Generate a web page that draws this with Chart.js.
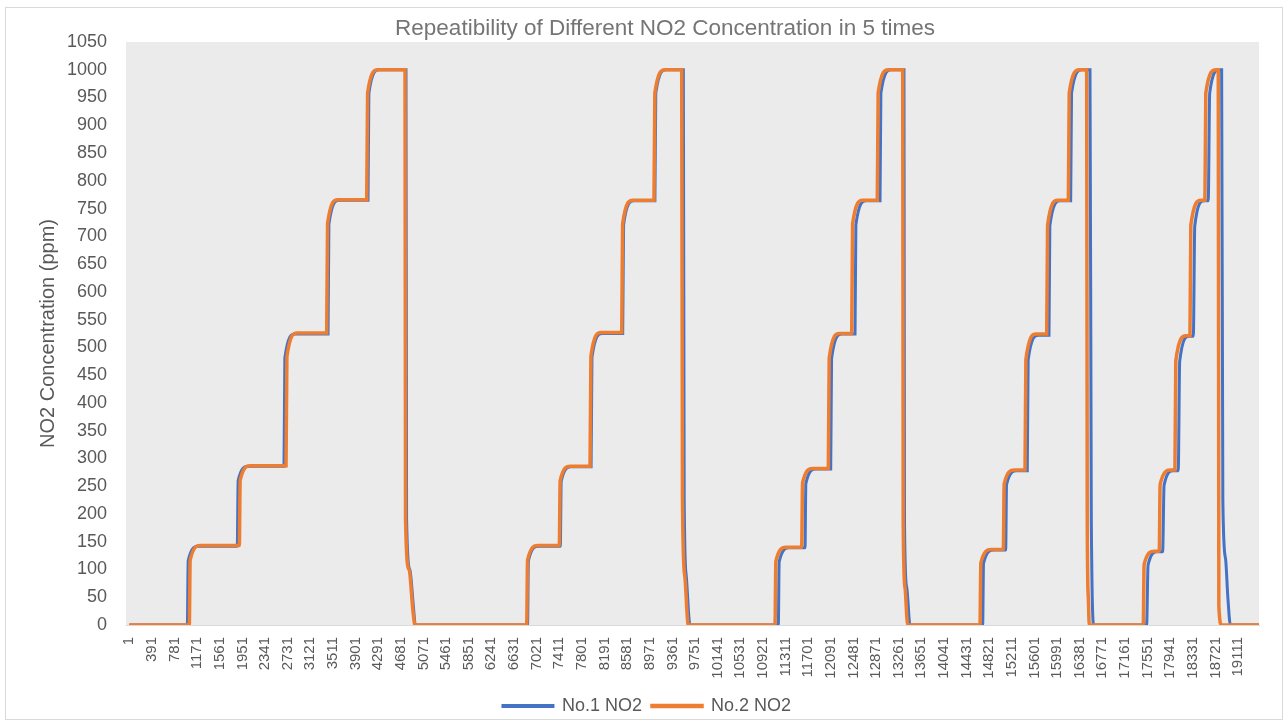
<!DOCTYPE html>
<html>
<head>
<meta charset="utf-8">
<title>Repeatibility of Different NO2 Concentration in 5 times</title>
<script src="https://cdn.jsdelivr.net/npm/chart.js@4.4.0/dist/chart.umd.min.js"></script>
<style>
  html, body { margin: 0; padding: 0; background: #fff; }
  #wrap { width: 1288px; height: 725px; }
</style>
</head>
<body>
<div id="wrap"><canvas id="no2Chart" width="1288" height="725"></canvas></div>
<script>
const chartTitle = 'Repeatibility of Different NO2 Concentration in 5 times';
const yTitle = 'NO2 Concentration (ppm)';
const seriesNames = ['No.1 NO2', 'No.2 NO2'];

// category labels shown on the x axis (every 390th sample)
const xTicks = [1, 391, 781, 1171, 1561, 1951, 2341, 2731, 3121, 3511, 3901, 4291, 4681,
    5071, 5461, 5851, 6241, 6631, 7021, 7411, 7801, 8191, 8581, 8971, 9361, 9751,
    10141, 10531, 10921, 11311, 11701, 12091, 12481, 12871, 13261, 13651, 14041, 14431,
    14821, 15211, 15601, 15991, 16381, 16771, 17161, 17551, 17941, 18331, 18721, 19111];

// No.1 sensor - corners of the step curve (sample index, ppm)
const no1X = [1,
    1001, 1016, 1191, 1862, 1877, 2052, 2667, 2682, 2857, 3426, 3441, 3616, 4115, 4130, 4305,
    4770, 4780, 4835, 4900, 4930,
    6865, 6880, 7055, 7430, 7445, 7620, 7960, 7975, 8150, 8505, 8520, 8695, 9060, 9075, 9250,
    9550, 9565, 9600, 9665,
    11187, 11202, 11377, 11647, 11662, 11837, 12090, 12105, 12280, 12509, 12524, 12699, 12940, 12955, 13130,
    13353, 13362, 13400, 13457,
    14709, 14724, 14899, 15106, 15121, 15296, 15478, 15493, 15668, 15852, 15867, 16042, 16226, 16241, 16416,
    16559, 16582, 16627,
    17535, 17560, 17720, 17811, 17836, 17996, 18080, 18105, 18265, 18340, 18365, 18525, 18597, 18622, 18782,
    18828, 18849, 18895, 18935, 18979,
    19470];
const no1Y = [0,
    0, 116, 142, 142, 260, 286, 286, 481, 524, 524, 722, 765, 765, 958, 1000,
    1000, 191, 100, 30, 0,
    0, 116, 142, 142, 259, 285, 285, 482, 525, 525, 721, 764, 764, 958, 1000,
    1000, 228, 89, 0,
    0, 114, 139, 139, 255, 281, 281, 480, 524, 524, 721, 764, 764, 958, 1000,
    1000, 184, 68, 0,
    0, 111, 135, 135, 253, 278, 278, 477, 522, 522, 719, 764, 764, 958, 1000,
    1000, 184, 0,
    0, 108, 132, 132, 252, 278, 278, 475, 520, 520, 719, 764, 764, 958, 1000,
    1000, 224, 120, 50, 0,
    0];

// No.2 sensor
const no2X = [1,
    1035, 1050, 1225, 1897, 1912, 2087, 2702, 2717, 2892, 3403, 3418, 3593, 4093, 4108, 4283,
    4753, 4762, 4822, 4891, 4925,
    6850, 6865, 7040, 7412, 7427, 7602, 7942, 7957, 8132, 8488, 8503, 8678, 9044, 9059, 9234,
    9522, 9535, 9575, 9635,
    11130, 11145, 11320, 11590, 11605, 11780, 12049, 12064, 12239, 12452, 12467, 12642, 12893, 12908, 13083,
    13331, 13340, 13370, 13417,
    14663, 14678, 14853, 15065, 15080, 15255, 15439, 15454, 15629, 15813, 15828, 16003, 16186, 16201, 16376,
    16502, 16512, 16530, 16547,
    17477, 17492, 17667, 17753, 17768, 17943, 18023, 18038, 18213, 18282, 18297, 18472, 18540, 18555, 18730,
    18770, 18780, 18828,
    19470];
const no2Y = [0,
    0, 117, 143, 143, 261, 287, 287, 483, 526, 526, 723, 766, 766, 958, 1000,
    1000, 191, 100, 24, 0,
    0, 117, 143, 143, 260, 286, 286, 484, 527, 527, 722, 765, 765, 958, 1000,
    1000, 228, 89, 0,
    0, 115, 140, 140, 256, 282, 282, 481, 525, 525, 722, 765, 765, 958, 1000,
    1000, 184, 68, 0,
    0, 112, 136, 136, 254, 279, 279, 478, 524, 524, 720, 765, 765, 958, 1000,
    1000, 184, 50, 0,
    0, 109, 133, 133, 253, 279, 279, 476, 521, 521, 720, 765, 765, 958, 1000,
    1000, 34, 0,
    0];

function toPoints(xs, ys) {
    return xs.map((x, i) => ({ x: x, y: ys[i] }));
}

const FONT = "'Liberation Sans', Arial, sans-serif";
const TEXT_GREY = '#595959';

// white page, thin frame, grey plot area and the title
const backdrop = {
    id: 'backdrop',
    beforeDraw(chart) {
        const c = chart.ctx;
        const a = chart.chartArea;
        c.save();
        c.fillStyle = '#ffffff';
        c.fillRect(0, 0, chart.width, chart.height);
        c.strokeStyle = '#d9d9d9';
        c.lineWidth = 1;
        c.strokeRect(5.5, 7.5, 1277, 712);
        c.fillStyle = '#ebebeb';
        c.fillRect(a.left, a.top, a.right - a.left, a.bottom - a.top);
        c.fillStyle = '#757575';
        c.font = '22.5px ' + FONT;
        c.textAlign = 'center';
        c.textBaseline = 'middle';
        c.fillText(chartTitle, 665, 29);
        c.restore();
    }
};

const ctx = document.getElementById('no2Chart').getContext('2d');
const no2Chart = new Chart(ctx, {
    type: 'line',
    data: {
        datasets: [{
            label: seriesNames[0],
            data: toPoints(no1X, no1Y),
            borderColor: '#4472c4',
            backgroundColor: '#4472c4',
            borderWidth: 3,
            pointRadius: 0,
            cubicInterpolationMode: 'monotone',
            order: 2
        }, {
            label: seriesNames[1],
            data: toPoints(no2X, no2Y),
            borderColor: '#ed7d31',
            backgroundColor: '#ed7d31',
            borderWidth: 3.5,
            pointRadius: 0,
            cubicInterpolationMode: 'monotone',
            order: 1
        }]
    },
    options: {
        responsive: false,
        animation: false,
        layout: { padding: { top: 42, left: 35, right: 29, bottom: 0 } },
        plugins: {
            title: { display: false },
            tooltip: { enabled: false },
            legend: {
                position: 'bottom',
                labels: {
                    color: TEXT_GREY,
                    font: { family: FONT, size: 18 },
                    boxWidth: 50,
                    boxHeight: 1,
                    padding: 10,
                    sort: (a, b) => a.datasetIndex - b.datasetIndex
                }
            }
        },
        scales: {
            x: {
                type: 'linear',
                min: -56,
                max: 19472,
                afterBuildTicks: scale => {
                    scale.ticks = xTicks.map(v => ({ value: v }));
                },
                afterFit: scale => { scale.height = 62; },
                grid: { display: false, drawTicks: false },
                border: { display: true, color: '#d9d9d9', width: 1 },
                ticks: {
                    autoSkip: false,
                    minRotation: 90,
                    maxRotation: 90,
                    padding: 12,
                    color: TEXT_GREY,
                    font: { family: FONT, size: 15 },
                    callback: v => String(v)
                }
            },
            y: {
                min: 0,
                max: 1050,
                afterFit: scale => { scale.width = 91; },
                grid: { display: false, drawTicks: false },
                border: { display: false },
                ticks: {
                    stepSize: 50,
                    padding: 19,
                    color: TEXT_GREY,
                    font: { family: FONT, size: 18 },
                    callback: v => String(v)
                },
                title: {
                    display: true,
                    text: yTitle,
                    color: TEXT_GREY,
                    font: { family: FONT, size: 20 },
                    padding: { top: 1, bottom: 0 }
                }
            }
        }
    },
    plugins: [backdrop]
});
</script>
</body>
</html>
